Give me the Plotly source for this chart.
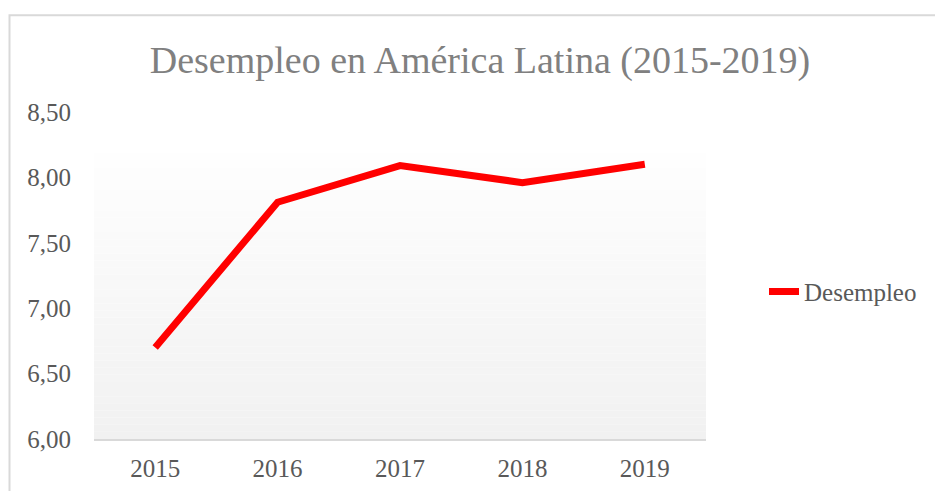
import plotly.graph_objects as go

years = ["2015", "2016", "2017", "2018", "2019"]
desempleo = [6.70, 7.81, 8.09, 7.96, 8.10]
y_ticks = [6.0, 6.5, 7.0, 7.5, 8.0, 8.5]
title_text = "Desempleo en América Latina (2015-2019)"
series_name = "Desempleo"

fig = go.Figure()
fig.add_trace(go.Scatter(
    x=years, y=desempleo, mode="lines", name=series_name,
    line=dict(color="#ff0000", width=7),
))

# background gradient of plot area (decoration)
shapes = []
n = 40
top = 0.873
for i in range(n):
    y0 = top * i / n
    y1 = top * (i + 1) / n
    c = int(round(241 + (254 - 241) * i / (n - 1)))
    shapes.append(dict(type="rect", xref="paper", yref="paper", x0=0, x1=1, y0=y0, y1=y1,
                       fillcolor=f"rgb({c},{c},{c})", line=dict(width=0), layer="below"))
# chart border
shapes.append(dict(type="rect", xref="paper", yref="paper",
                   x0=(9.5 - 94) / 612, x1=(960 - 94) / 612,
                   y0=(439 - 520) / 326.5, y1=(439 - 16) / 326.5,
                   line=dict(color="#d9d9d9", width=2), fillcolor="rgba(0,0,0,0)", layer="below"))

fig.update_layout(
    width=935, height=491,
    margin=dict(l=94, r=229, t=112, b=52, autoexpand=False),
    paper_bgcolor="white", plot_bgcolor="rgba(0,0,0,0)",
    separators=",.",
    shapes=shapes,
    title=dict(text=title_text, x=480 / 935, xanchor="center", y=1 - 60 / 491, yanchor="middle",
               font=dict(family="Liberation Serif", size=38, color="#808080")),
    font=dict(family="Liberation Serif", size=25, color="#595959"),
    showlegend=True,
    legend=dict(x=(764 - 94) / 612, y=(439 - 292) / 326.5, xanchor="left", yanchor="middle",
                bgcolor="rgba(0,0,0,0)", font=dict(family="Liberation Serif", size=25, color="#595959")),
    xaxis=dict(type="category", range=[-0.5, 4.5], showgrid=False, showline=True,
               linecolor="#d9d9d9", linewidth=2, ticks="outside", ticklen=6,
               tickcolor="rgba(0,0,0,0)", zeroline=False, automargin=False),
    yaxis=dict(range=[6, 8.5], tickvals=y_ticks, tickformat=".2f", showgrid=False,
               showline=False, zeroline=False, ticks="outside", ticklen=17,
               tickcolor="rgba(0,0,0,0)", automargin=False),
)

fig.write_html("out.html")
